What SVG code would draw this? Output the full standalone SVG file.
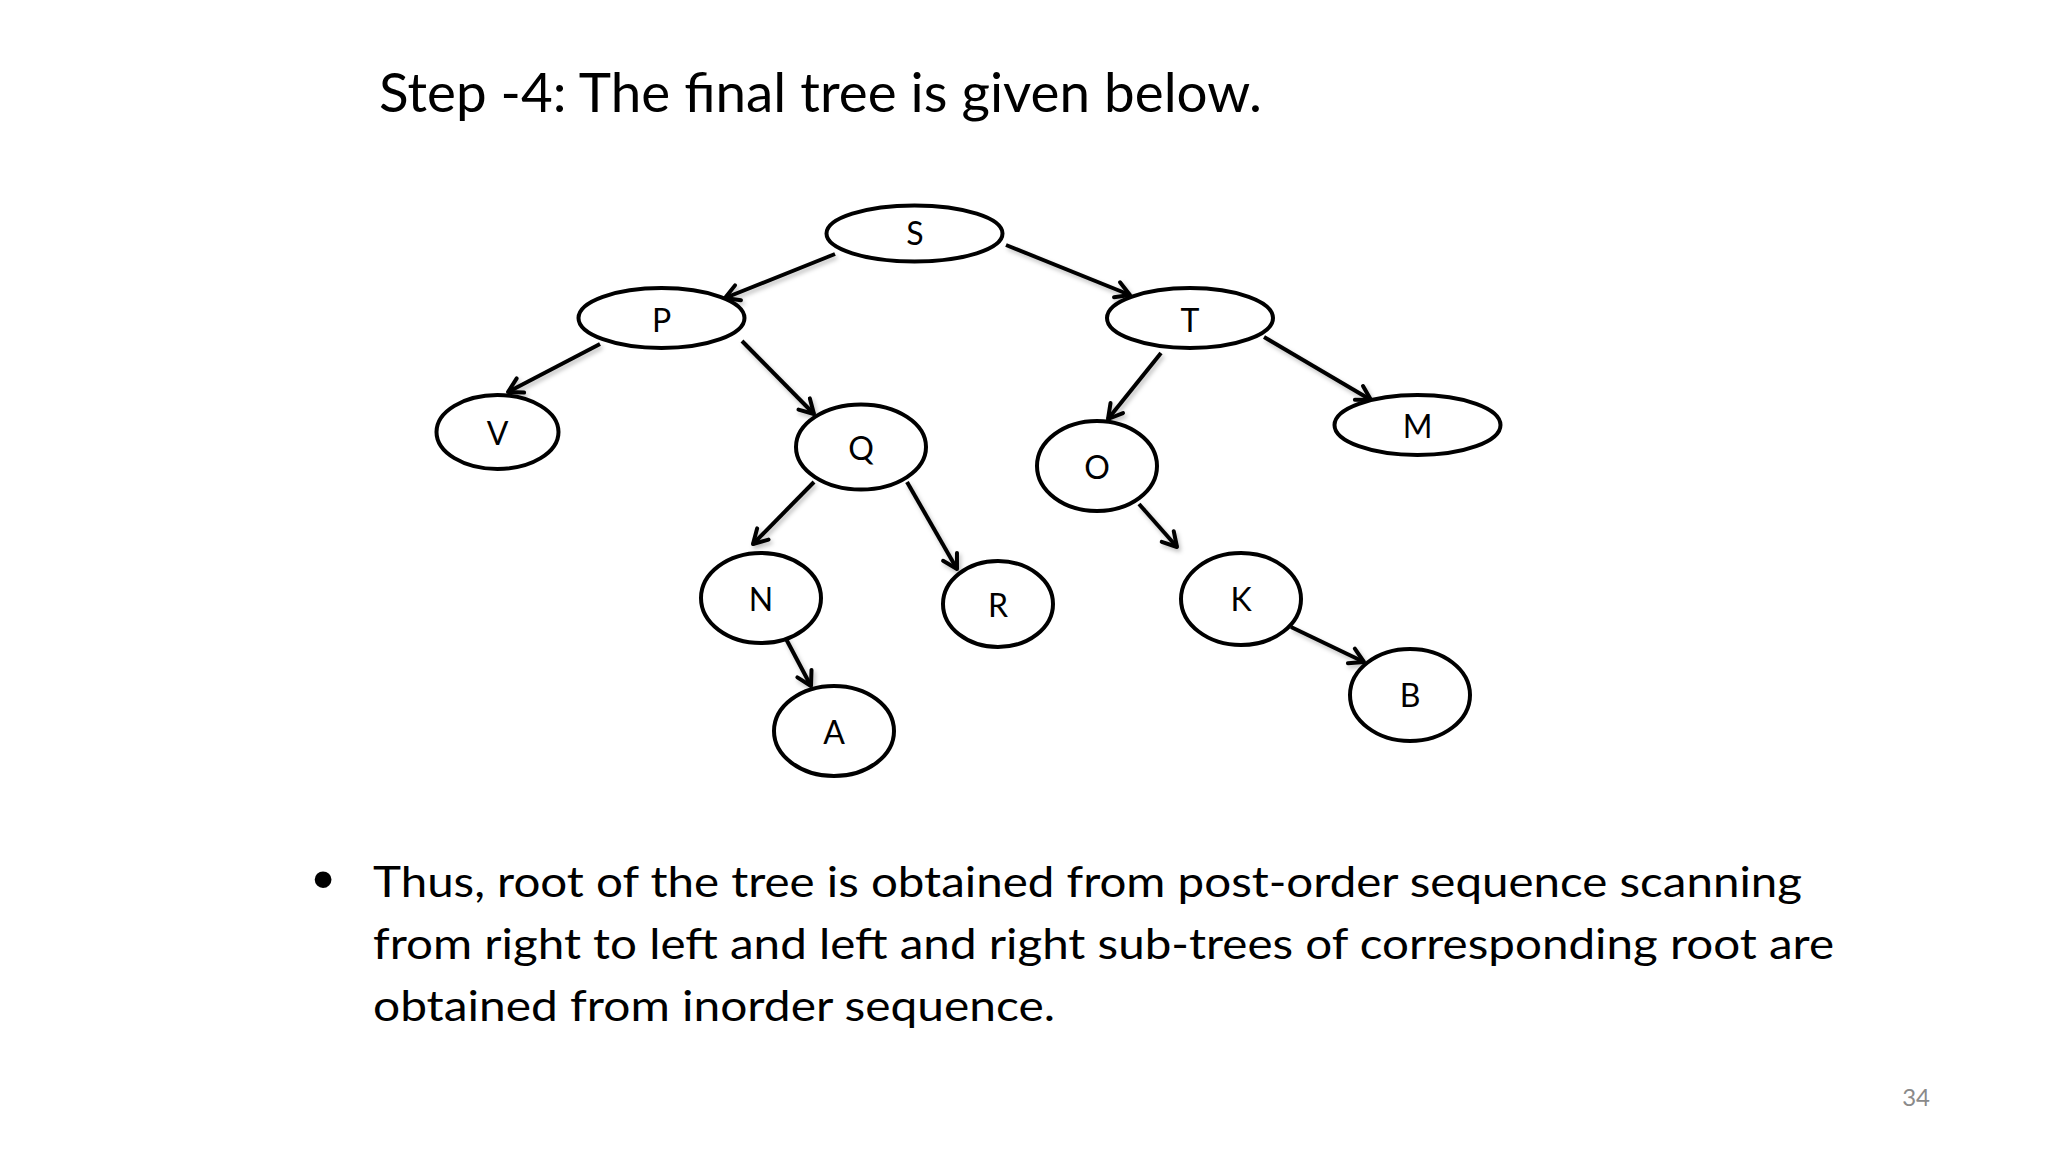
<svg xmlns="http://www.w3.org/2000/svg" width="2048" height="1152" viewBox="0 0 2048 1152">
  <style>
    .node ellipse { fill: #ffffff; stroke: #000000; stroke-width: 4; }
    .node text { font-family: Lato, "Open Sans", "Liberation Sans", sans-serif; font-size: 32px; fill: #000000; text-anchor: middle; }
    .edge { stroke: #000000; stroke-width: 4; fill: none; marker-end: url(#arr); }
    .title { font-family: Lato, "Open Sans", "Liberation Sans", sans-serif; font-size: 53.5px; fill: #000000; }
    .body { font-family: Lato, "Open Sans", "Liberation Sans", sans-serif; font-size: 43px; fill: #000000; }
    .bullet { font-family: "Liberation Sans", Arial, sans-serif; font-size: 62px; fill: #000000; text-anchor: middle; }
    .pnum { font-family: Lato, "Open Sans", "Liberation Sans", sans-serif; font-size: 24px; fill: #8a8a8a; text-anchor: end; }
  </style>
  <defs>
    <marker id="arr" viewBox="-18 -12 22 24" refX="0" refY="0" markerWidth="22" markerHeight="24" markerUnits="userSpaceOnUse" orient="auto">
      <path d="M-14,-8 L0,0 L-14,8" fill="none" stroke="#000000" stroke-width="4" stroke-linecap="round" stroke-linejoin="round"/>
    </marker>
    <filter id="sh" x="-20%" y="-20%" width="140%" height="140%">
      <feDropShadow dx="2" dy="3" stdDeviation="2" flood-color="#000000" flood-opacity="0.25"/>
    </filter>
  </defs>
  <rect width="2048" height="1152" fill="#ffffff"/>

  <text class="title" x="379" y="112" textLength="883" lengthAdjust="spacingAndGlyphs">Step -4: The final tree is given below.</text>

  <g id="connectors" filter="url(#sh)">
    <line class="edge" x1="835" y1="254" x2="725" y2="298"/>
    <line class="edge" x1="1006" y1="245" x2="1130" y2="295"/>
    <line class="edge" x1="600" y1="344" x2="508" y2="392"/>
    <line class="edge" x1="742" y1="341" x2="814" y2="414"/>
    <line class="edge" x1="1161" y1="353" x2="1108" y2="419"/>
    <line class="edge" x1="1264" y1="337" x2="1371" y2="400"/>
    <line class="edge" x1="814" y1="482" x2="753" y2="544"/>
    <line class="edge" x1="907" y1="482" x2="957" y2="569"/>
    <line class="edge" x1="1139" y1="504" x2="1177" y2="547"/>
    <line class="edge" x1="785" y1="637" x2="811" y2="686"/>
    <line class="edge" x1="1291" y1="627" x2="1364" y2="662"/>
  </g>

  <g id="node-S" class="node"><ellipse cx="914.5" cy="233.5" rx="88" ry="28"/><text x="915" y="245">S</text></g>
  <g id="node-P" class="node"><ellipse cx="661.5" cy="318" rx="83" ry="30"/><text x="661.5" y="331.5">P</text></g>
  <g id="node-T" class="node"><ellipse cx="1190" cy="318" rx="83" ry="30"/><text x="1190" y="331.5">T</text></g>
  <g id="node-V" class="node"><ellipse cx="497.5" cy="432" rx="61" ry="37"/><text x="497.5" y="445">V</text></g>
  <g id="node-Q" class="node"><ellipse cx="861" cy="447" rx="65" ry="42.5"/><text x="861" y="460">Q</text></g>
  <g id="node-O" class="node"><ellipse cx="1097" cy="466" rx="60" ry="45"/><text x="1097" y="479">O</text></g>
  <g id="node-M" class="node"><ellipse cx="1417.5" cy="425" rx="83" ry="30"/><text x="1417.5" y="438">M</text></g>
  <g id="node-N" class="node"><ellipse cx="761" cy="598" rx="60" ry="45"/><text x="761" y="611">N</text></g>
  <g id="node-R" class="node"><ellipse cx="998" cy="604" rx="55" ry="43"/><text x="998" y="617">R</text></g>
  <g id="node-K" class="node"><ellipse cx="1241" cy="599" rx="60" ry="46"/><text x="1241" y="611">K</text></g>
  <g id="node-B" class="node"><ellipse cx="1410" cy="695" rx="60" ry="46"/><text x="1410" y="707">B</text></g>
  <g id="node-A" class="node"><ellipse cx="834" cy="731" rx="60" ry="45"/><text x="834" y="744">A</text></g>

  <text class="bullet" x="323" y="900">•</text>
  <text class="body" x="373" y="897" textLength="1429" lengthAdjust="spacingAndGlyphs">Thus, root of the tree is obtained from post-order sequence scanning</text>
  <text class="body" x="373" y="959" textLength="1461" lengthAdjust="spacingAndGlyphs">from right to left and left and right sub-trees of corresponding root are</text>
  <text class="body" x="373" y="1020.5" textLength="682" lengthAdjust="spacingAndGlyphs">obtained from inorder sequence.</text>

  <text class="pnum" x="1930" y="1106">34</text>
</svg>
